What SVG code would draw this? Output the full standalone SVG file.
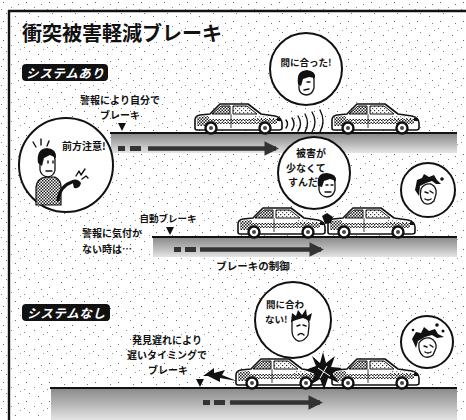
<svg xmlns="http://www.w3.org/2000/svg" xmlns:xlink="http://www.w3.org/1999/xlink" width="466" height="420" viewBox="0 0 466 420">
  <style>
    .jp { font-family: "Noto Sans CJK JP", "Noto Sans CJK SC", sans-serif; font-weight: 700; fill: #111; }
    .lbl { font-size: 10px; }
    .tag { font-size: 12.5px; fill: #fff; font-style: italic; }
    .road { stroke: #111; stroke-width: 2.2; }
    .bubble { fill: #fff; stroke: #111; stroke-width: 2; }
    .ink { stroke: #111; stroke-width: 1.4; fill: none; stroke-linecap: round; stroke-linejoin: round; }
    .skin { fill: #fff; stroke: #111; stroke-width: 1.3; }
  </style>
  <defs>
    <!-- sparse print grain over the paper -->
    <pattern id="grain" width="23" height="19" patternUnits="userSpaceOnUse">
      <rect x="3" y="2" width="1" height="1" fill="#666"/>
      <rect x="11" y="7" width="1" height="1" fill="#888"/>
      <rect x="18" y="4" width="1" height="1" fill="#777"/>
      <rect x="6" y="13" width="1" height="1" fill="#777"/>
      <rect x="15" y="16" width="1" height="1" fill="#666"/>
      <rect x="20" y="11" width="1" height="1" fill="#999"/>
      <rect x="1" y="9" width="1" height="1" fill="#888"/>
    </pattern>
    <!-- dither used for shading -->
    <pattern id="hatch" width="3" height="3" patternUnits="userSpaceOnUse">
      <rect width="3" height="3" fill="#fff"/>
      <rect x="0" y="0" width="1.5" height="1.5" fill="#222"/>
      <rect x="1.5" y="1.5" width="1.5" height="1.5" fill="#222"/>
    </pattern>
    <pattern id="hatchLight" width="4" height="4" patternUnits="userSpaceOnUse">
      <rect width="4" height="4" fill="#fff"/>
      <rect x="0" y="0" width="1.2" height="1.2" fill="#333"/>
      <rect x="2" y="2" width="1.2" height="1.2" fill="#555"/>
    </pattern>
    <!-- road shoulder: dark under the line, fading downwards -->
    <linearGradient id="band" x1="0" y1="0" x2="0" y2="1">
      <stop offset="0" stop-color="#8c8c8c"/>
      <stop offset="0.45" stop-color="#b2b2b2"/>
      <stop offset="1" stop-color="#e4e4e4"/>
    </linearGradient>
    <marker id="tip" viewBox="0 0 10 10" refX="8" refY="5" markerWidth="3.2" markerHeight="3.2" orient="auto">
      <path d="M0,0 L10,5 L0,10 Z" fill="#333"/>
    </marker>
    <!-- side view of a car heading right, 90 x 31, ground at y=31 -->
    <g id="car">
      <path d="M2,26 L2,18 Q2,14 7,13 L17,12 L27,2 L55,2 L68,12 L82,14 Q89,16 89,21 L89,26 Q89,28 86,28 L4,28 Q2,28 2,26 Z" fill="#fff" stroke="#111" stroke-width="1.6" stroke-linejoin="round"/>
      <path d="M19,12 L28,4 L37,4 L37,12 Z" fill="url(#hatch)" stroke="#111" stroke-width="1"/>
      <path d="M40,4 L54,4 L64,12 L40,12 Z" fill="url(#hatchLight)" stroke="#111" stroke-width="1"/>
      <path d="M4,15 L16,14 L16,24 L4,24 Z" fill="url(#hatch)"/>
      <path d="M60,14 L82,15 Q87,17 87,20 L60,20 Z" fill="url(#hatchLight)"/>
      <rect x="8" y="17" width="76" height="5" fill="url(#hatch)"/>
      <line x1="22" y1="19.5" x2="66" y2="19.5" stroke="#fff" stroke-width="1.2" stroke-dasharray="3 1.5"/>
      <line x1="38" y1="12" x2="38" y2="26" stroke="#111" stroke-width="0.8"/>
      <rect x="84" y="16" width="4" height="3" fill="#111"/>
      <circle cx="18" cy="26" r="5.5" fill="#fff" stroke="#111" stroke-width="2.4"/>
      <circle cx="18" cy="26" r="2" fill="#444"/>
      <circle cx="72" cy="26" r="5.5" fill="#fff" stroke="#111" stroke-width="2.4"/>
      <circle cx="72" cy="26" r="2" fill="#444"/>
    </g>
    <path id="mark" d="M-4,0 L4,0 L0,8 Z" fill="#111"/>
  </defs>

  <!-- paper and frame -->
  <rect width="466" height="420" fill="#fff"/>
  <rect width="466" height="420" fill="url(#grain)"/>
  <line x1="8" y1="11" x2="466" y2="11" stroke="#111" stroke-width="2.4"/>
  <line x1="9" y1="10" x2="9" y2="420" stroke="#111" stroke-width="2.4"/>

  <text class="jp" x="22" y="41" font-size="20">衝突被害軽減ブレーキ</text>

  <!-- ===== with the system: warning ===== -->
  <g id="tag-with">
    <rect x="22" y="64" width="86" height="17" rx="4" fill="#111"/>
    <text class="jp tag" x="65" y="77.5" text-anchor="middle" textLength="78">システムあり</text>
  </g>

  <g id="road-1">
    <rect x="111" y="134" width="346" height="19" fill="url(#band)"/>
    <line class="road" x1="110" y1="133" x2="457" y2="133"/>
    <rect x="118" y="146" width="7" height="5" fill="#333"/>
    <rect x="130" y="146" width="11" height="5" fill="#333"/>
    <line x1="148" y1="148.5" x2="276" y2="148.5" stroke="#333" stroke-width="4.5" marker-end="url(#tip)"/>
  </g>

  <g id="note-warning">
    <text class="jp lbl" x="120" y="104" text-anchor="middle">警報により自分で</text>
    <text class="jp lbl" x="120" y="119" text-anchor="middle">ブレーキ</text>
    <use xlink:href="#mark" x="122" y="123"/>
  </g>

  <g id="cars-1">
    <use xlink:href="#car" x="193" y="102"/>
    <use xlink:href="#car" x="330" y="102"/>
    <!-- radar waves -->
    <g class="ink" stroke-width="1.6">
      <path d="M286,120 Q289,124 286,128"/>
      <path d="M292,118 Q296,124 292,130"/>
      <path d="M298,116 Q303,124 298,131"/>
      <path d="M305,114 Q310,123 305,132"/>
      <path d="M312,112 Q318,122 312,132"/>
      <path d="M320,110 Q326,121 320,132"/>
    </g>
  </g>

  <g id="bubble-driver">
    <circle class="bubble" cx="66" cy="165" r="47"/>
    <text class="jp" x="62" y="150" font-size="10">前方注意!</text>
    <g class="ink" stroke-width="1.5">
      <line x1="33" y1="142" x2="36" y2="147"/>
      <line x1="41" y1="139" x2="41" y2="145"/>
      <line x1="49" y1="141" x2="47" y2="146"/>
    </g>
    <path d="M36,205 L36,187 Q37,178 46,177 L55,177 Q61,180 61,187 L61,205 Z" fill="url(#hatch)" stroke="#111" stroke-width="1.2"/>
    <path class="skin" d="M40,157 Q40,150 47,150 Q55,151 55,160 L55,170 Q54,176 48,177 Q41,176 40,170 Z"/>
    <path d="M38,163 Q36,149 47,148 Q57,149 56,158 L50,155 L44,158 L42,166 Z" fill="#111"/>
    <path class="ink" d="M48,161 L48,163 M53,161 L53,163 M46,171 L52,171"/>
    <path d="M58,200 Q60,186 72,182" fill="none" stroke="#111" stroke-width="3.2" stroke-linecap="round"/>
    <path d="M72,180 Q78,178 81,183 Q80,189 74,188 Z" fill="#111"/>
    <g class="ink" stroke-width="1.4">
      <path d="M76,176 L79,171 L81,175 L85,169"/>
      <path d="M82,179 L86,176 L88,178"/>
    </g>
  </g>

  <g id="bubble-in-time">
    <circle class="bubble" cx="306" cy="69" r="36"/>
    <text class="jp" x="306" y="66" font-size="9.5" text-anchor="middle">間に合った!</text>
    <path class="skin" d="M299,76 Q300,71 307,72 Q314,73 314,80 L314,88 Q312,95 306,95 Q299,94 299,88 Z"/>
    <path d="M298,84 Q296,71 307,70 Q316,71 315,78 L309,77 L303,79 L301,86 Z" fill="#111"/>
    <path class="ink" d="M307,82 L310,82 M304,90 L309,89"/>
  </g>

  <!-- ===== with the system: automatic braking ===== -->
  <g id="road-2">
    <rect x="153" y="238" width="304" height="19" fill="url(#band)"/>
    <line class="road" x1="152" y1="237" x2="457" y2="237"/>
    <rect x="174" y="247" width="7" height="5" fill="#333"/>
    <rect x="185" y="247" width="11" height="5" fill="#333"/>
    <line x1="200" y1="249.5" x2="321" y2="249.5" stroke="#333" stroke-width="4.5" marker-end="url(#tip)"/>
    <text class="jp" x="253" y="270" font-size="10.5" text-anchor="middle">ブレーキの制御</text>
  </g>

  <g id="note-auto">
    <text class="jp" x="168" y="222" font-size="9.5" text-anchor="middle">自動ブレーキ</text>
    <use xlink:href="#mark" x="170" y="227"/>
    <text class="jp lbl" x="82" y="237">警報に気付か</text>
    <text class="jp lbl" x="82" y="253">ない時は…</text>
  </g>

  <g id="cars-2">
    <use xlink:href="#car" x="236" y="206"/>
    <use xlink:href="#car" x="326" y="206"/>
    <path d="M322,216 L327,213 L333,217 L331,223 L325,224 Z" fill="#111"/>
  </g>

  <g id="bubble-less-damage">
    <circle class="bubble" cx="314" cy="173" r="36"/>
    <text class="jp lbl" x="296" y="157">被害が</text>
    <text class="jp lbl" x="286" y="171.5">少なくて</text>
    <text class="jp lbl" x="288" y="186">すんだ</text>
    <path class="skin" d="M319,181 Q320,175 327,175 Q335,176 335,183 L335,190 Q333,197 327,197 Q320,196 319,190 Z"/>
    <path d="M318,186 Q316,173 327,173 Q337,174 336,181 L330,179 L324,181 L322,187 Z" fill="#111"/>
    <path class="ink" d="M326,185 L328,185 M331,185 L333,185 M325,192 L331,192"/>
  </g>

  <g id="bubble-dazed-1">
    <circle class="bubble" cx="428" cy="190" r="27"/>
    <path d="M415,190 L417,180 L422,178 L424,174 L429,177 L434,175 L437,180 L441,184 L436,184 L432,181 L426,183 L420,186 L419,196 Z" fill="#111"/>
    <path class="skin" d="M421,189 Q424,183 431,184 Q437,187 436,194 L434,201 Q429,206 424,203 Q419,199 421,189 Z"/>
    <path class="ink" d="M425,192 L428,193 M430,191 L433,193 M425,199 Q428,201 431,199"/>
    <circle cx="442" cy="179" r="1.8" fill="#111"/>
  </g>

  <!-- ===== without the system ===== -->
  <g id="tag-without">
    <rect x="22" y="304" width="88" height="17" rx="4" fill="#111"/>
    <text class="jp tag" x="66" y="317.5" text-anchor="middle" textLength="78">システムなし</text>
  </g>

  <g id="road-3">
    <rect x="51" y="389" width="406" height="31" fill="url(#band)"/>
    <line class="road" x1="50" y1="388" x2="457" y2="388"/>
    <rect x="203" y="400" width="7" height="5" fill="#333"/>
    <rect x="214" y="400" width="11" height="5" fill="#333"/>
    <line x1="230" y1="402.5" x2="320" y2="402.5" stroke="#333" stroke-width="4.5" marker-end="url(#tip)"/>
  </g>

  <g id="note-late">
    <text class="jp lbl" x="167" y="344" text-anchor="middle">発見遅れにより</text>
    <text class="jp lbl" x="167" y="359" text-anchor="middle">遅いタイミングで</text>
    <text class="jp lbl" x="168" y="374" text-anchor="middle">ブレーキ</text>
    <use xlink:href="#mark" x="200" y="379"/>
    <path d="M203,376 L214,368 L214,373 L225,370 L222,375 L237,381 L220,378 L220,382 L208,376 Z" fill="#111"/>
  </g>

  <g id="cars-3">
    <use xlink:href="#car" x="234" y="357"/>
    <use xlink:href="#car" x="330" y="357"/>
    <!-- impact burst -->
    <polygon points="323,352 326,363 335,356 331,367 342,368 332,373 339,383 328,378 324,390 320,379 310,385 315,374 305,370 316,366 312,356 320,363" fill="#111"/>
    <path d="M318,368 L330,376 M327,366 L320,378" stroke="#fff" stroke-width="1"/>
  </g>

  <g id="bubble-too-late">
    <circle class="bubble" cx="293" cy="320" r="38"/>
    <text class="jp" x="266" y="308" font-size="9.5">間に合わ</text>
    <text class="jp" x="265" y="323" font-size="9.5">ない!</text>
    <path class="skin" d="M292,321 Q295,315 303,316 Q310,318 309,326 L308,335 Q304,342 298,341 Q292,338 292,331 Z"/>
    <path d="M291,322 L292,313 L296,316 L298,310 L302,315 L306,309 L307,316 L312,313 L310,321 L303,318 L296,320 Z" fill="#111"/>
    <path class="ink" d="M297,326 L300,325 M303,325 L306,326 M298,335 Q301,332 304,335"/>
  </g>

  <g id="bubble-dazed-2">
    <circle class="bubble" cx="427" cy="342" r="26"/>
    <path d="M412,339 L416,332 L421,333 L424,327 L429,331 L435,329 L438,334 L444,337 L437,338 L432,335 L425,337 L418,341 L416,348 Z" fill="#111"/>
    <path class="skin" d="M419,343 Q423,337 430,338 Q437,341 436,348 L433,355 Q428,359 423,356 Q418,352 419,343 Z"/>
    <path class="ink" d="M424,346 L427,347 M430,345 L433,347 M425,352 Q428,354 431,352"/>
    <circle cx="437" cy="325" r="1.8" fill="#111"/>
    <circle cx="443" cy="331" r="1.5" fill="#111"/>
    <circle cx="413" cy="330" r="1.3" fill="#111"/>
  </g>
</svg>
